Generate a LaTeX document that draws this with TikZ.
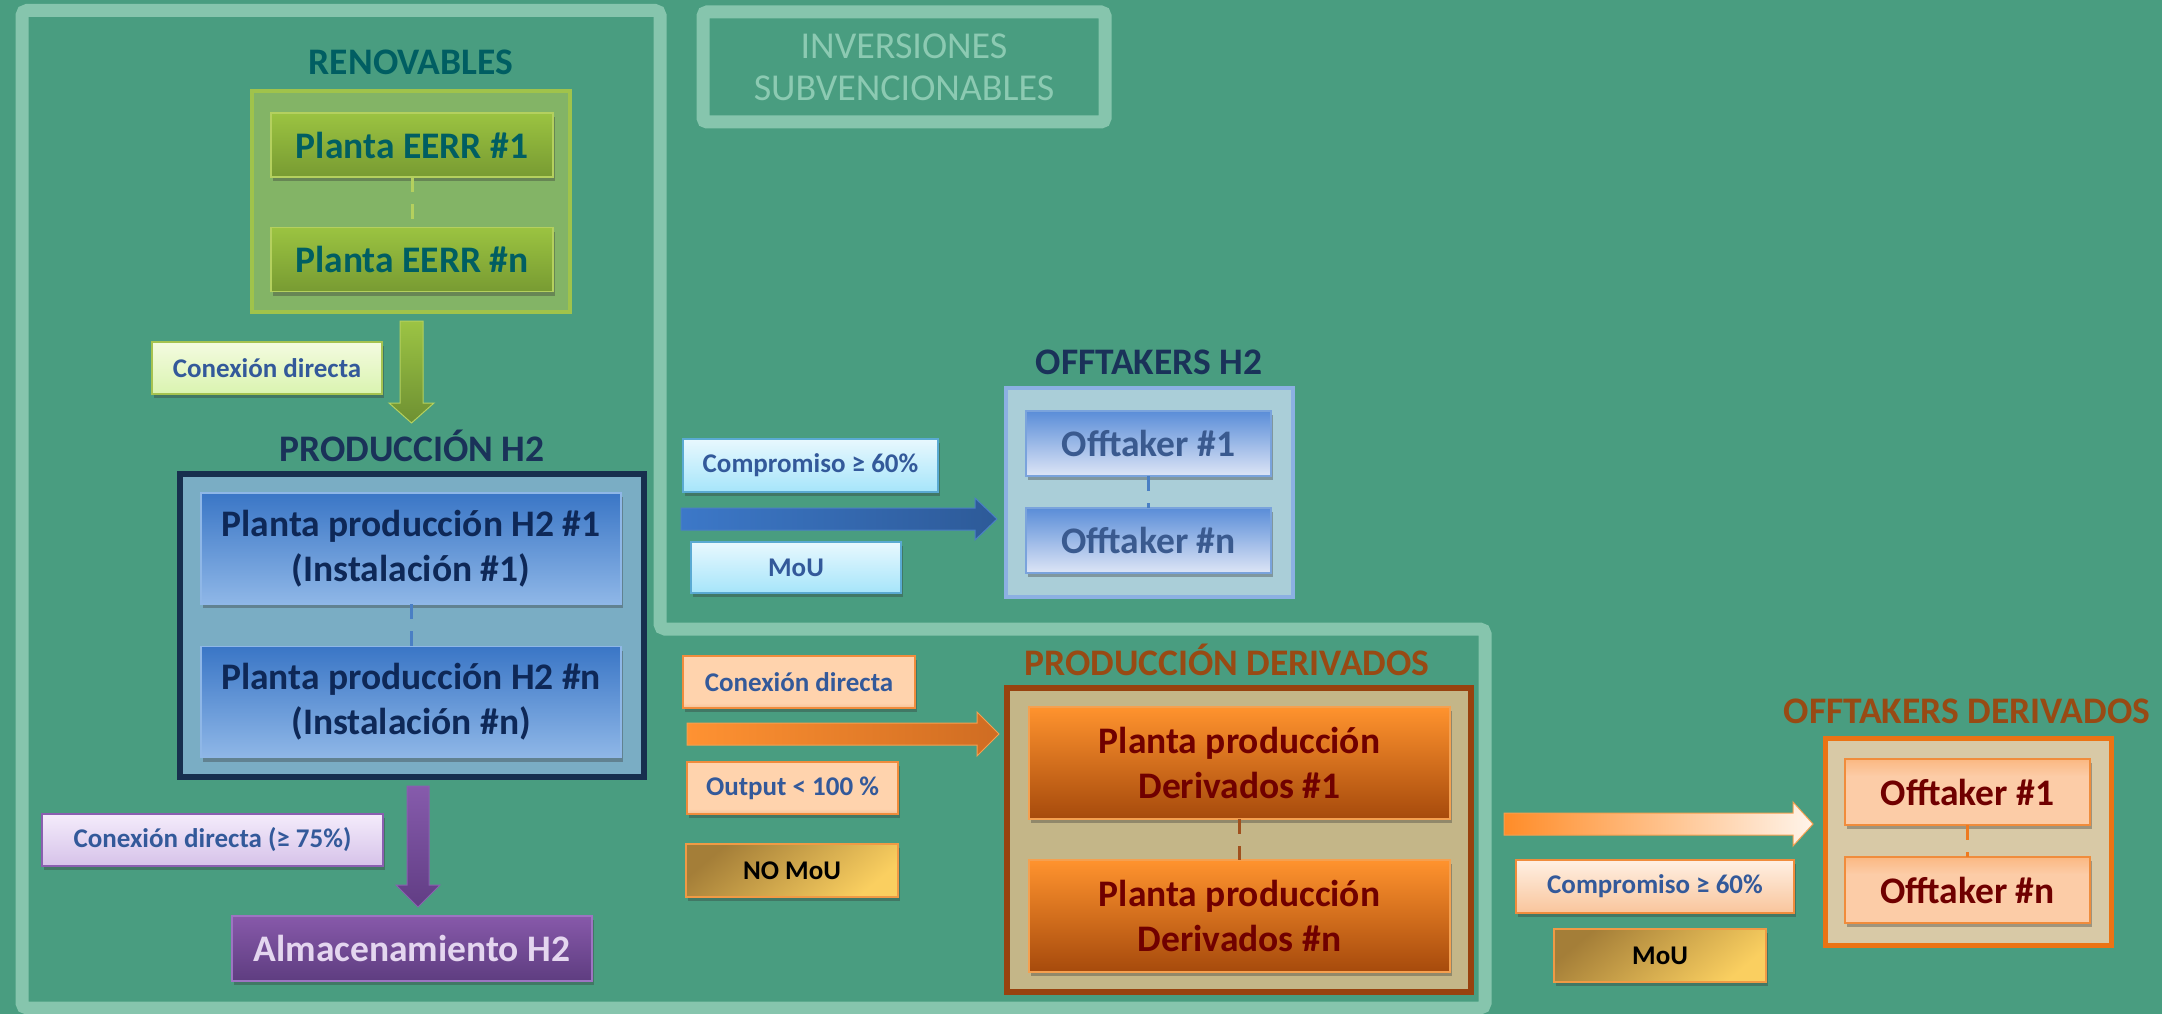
\documentclass[tikz,border=0pt]{standalone}
\usepackage{fontspec}
\setmainfont{Carlito}
\usetikzlibrary{shadows,calc}
\definecolor{bg}{HTML}{499D80}
\definecolor{framec}{HTML}{86C5AD}
\definecolor{invtxt}{HTML}{8CCAB2}
\definecolor{tealtxt}{HTML}{005E62}
\definecolor{navytxt}{HTML}{1A3259}
\definecolor{browntxt}{HTML}{984A14}
\definecolor{lblue}{HTML}{33599A}
\definecolor{renovfill}{HTML}{83B466}
\definecolor{renovbd}{HTML}{A0C34B}
\definecolor{eerrtop}{HTML}{9BC341}
\definecolor{eerrbot}{HTML}{789B32}
\definecolor{eerrbd}{HTML}{B4D05E}
\definecolor{glabtop}{HTML}{F4FBE0}
\definecolor{glabbot}{HTML}{DAF4B0}
\definecolor{glabbd}{HTML}{A5C350}
\definecolor{garrtop}{HTML}{9CC444}
\definecolor{garrbot}{HTML}{6E9032}
\definecolor{h2fill}{HTML}{7AADC4}
\definecolor{h2bd}{HTML}{172F4E}
\definecolor{h2top}{HTML}{3A76C6}
\definecolor{h2bot}{HTML}{8FB7E7}
\definecolor{h2txt}{HTML}{0E2857}
\definecolor{h2dash}{HTML}{4A7FC4}
\definecolor{parrtop}{HTML}{865BAC}
\definecolor{parrbot}{HTML}{613D84}
\definecolor{plabtop}{HTML}{F4ECFB}
\definecolor{plabbot}{HTML}{D6C2E9}
\definecolor{plabbd}{HTML}{8A5FB0}
\definecolor{almtop}{HTML}{8759AA}
\definecolor{almbot}{HTML}{5E3D80}
\definecolor{almbd}{HTML}{9D74C2}
\definecolor{almtxt}{HTML}{E4D6EF}
\definecolor{ofh2fill}{HTML}{AACED8}
\definecolor{ofh2bd}{HTML}{8CB0E2}
\definecolor{oftop}{HTML}{5A8DD8}
\definecolor{ofmid}{HTML}{A6C2EC}
\definecolor{ofbot}{HTML}{DDE5F6}
\definecolor{oftxt}{HTML}{3A5A8F}
\definecolor{ofbd}{HTML}{7AA3DC}
\definecolor{clabtop}{HTML}{E8F8FE}
\definecolor{clabbot}{HTML}{A6E5FA}
\definecolor{clabbd}{HTML}{5AAAD2}
\definecolor{barrl}{HTML}{3C78C8}
\definecolor{barrr}{HTML}{2D5A98}
\definecolor{olabpeach}{HTML}{FFD3AD}
\definecolor{olabbrown}{HTML}{BF6828}
\definecolor{olabbd}{HTML}{F08C3C}
\definecolor{oarrl}{HTML}{FF9232}
\definecolor{oarrr}{HTML}{CF6C22}
\definecolor{golddark}{HTML}{A47E38}
\definecolor{goldlight}{HTML}{FACF60}
\definecolor{goldbd}{HTML}{F09A45}
\definecolor{pdfill}{HTML}{C4B688}
\definecolor{pdbd}{HTML}{98420F}
\definecolor{dertop}{HTML}{FF932E}
\definecolor{derbot}{HTML}{A64A0C}
\definecolor{derbd}{HTML}{F5A050}
\definecolor{dertxt}{HTML}{700000}
\definecolor{derdash}{HTML}{A0501E}
\definecolor{rarrl}{HTML}{FF8C28}
\definecolor{rarrr}{HTML}{FFF4EA}
\definecolor{rlabtop}{HTML}{FFF0E3}
\definecolor{rlabbot}{HTML}{F9C59C}
\definecolor{odfill}{HTML}{D8C9A6}
\definecolor{odbd}{HTML}{EB7314}
\definecolor{odtop}{HTML}{F7913B}
\definecolor{odpeach}{HTML}{FCCCA7}
\definecolor{oddash}{HTML}{EE7A20}
\pgfdeclareverticalshading{olabshade}{100bp}{color(0bp)=(olabbrown); color(30bp)=(olabpeach); color(100bp)=(olabpeach)}
\pgfdeclareverticalshading{odshade}{100bp}{color(0bp)=(odpeach); color(62bp)=(odpeach); color(100bp)=(odtop)}
\newcommand{\hblock}[6]{\path[#6] ($(#1)+(0,-#3)$) -- ($(#2)+(-#5,-#3)$) -- ($(#2)+(-#5,-#4)$) -- (#2) -- ($(#2)+(-#5,#4)$) -- ($(#2)+(-#5,#3)$) -- ($(#1)+(0,#3)$) -- cycle;}
\newcommand{\vblock}[6]{\path[#6] ($(#1)+(-#3,0)$) -- ($(#2)+(-#3,-#5)$) -- ($(#2)+(-#4,-#5)$) -- (#2) -- ($(#2)+(#4,-#5)$) -- ($(#2)+(#3,-#5)$) -- ($(#1)+(#3,0)$) -- cycle;}
\tikzset{
  every node/.style={inner sep=0pt, outer sep=0pt},
  bigfont/.style={font=\fontsize{37.5}{45}\selectfont\bfseries},
  labfont/.style={font=\fontsize{27}{32}\selectfont\bfseries},
  shd/.style={drop shadow={shadow xshift=2pt, shadow yshift=-4pt, opacity=.35, fill=black!80}},
  ttl/.style={bigfont},
  eerrbox/.style={shd, bigfont, draw=eerrbd, line width=1.5pt, top color=eerrtop, bottom color=eerrbot, minimum width=282pt, minimum height=64pt, text=tealtxt},
  h2box/.style={shd, bigfont, align=center, draw=h2bot, line width=1.5pt, top color=h2top, bottom color=h2bot, minimum width=420pt, minimum height=111pt, text=h2txt},
  ofbox/.style={shd, bigfont, draw=ofbd, line width=1.5pt, top color=oftop, middle color=ofmid, bottom color=ofbot, minimum width=245pt, minimum height=65pt, text=oftxt},
  derbox/.style={shd, bigfont, align=center, draw=derbd, line width=1.5pt, top color=dertop, bottom color=derbot, minimum width=421pt, minimum height=112pt, text=dertxt},
  odbox/.style={shd, bigfont, draw=olabbd, line width=1.5pt, shading=odshade, minimum width=245pt, minimum height=66pt, text=dertxt},
  glab/.style={shd, labfont, draw=glabbd, line width=1.5pt, top color=glabtop, bottom color=glabbot, text=lblue},
  plab/.style={shd, labfont, draw=plabbd, line width=1.5pt, top color=plabtop, bottom color=plabbot, text=lblue},
  clab/.style={shd, labfont, draw=clabbd, line width=1.5pt, top color=clabtop, bottom color=clabbot, text=lblue},
  olab/.style={shd, labfont, draw=olabbd, line width=1.5pt, shading=olabshade, text=lblue},
  rlab/.style={shd, labfont, draw=olabbd, line width=1.5pt, top color=rlabtop, bottom color=rlabbot, text=lblue},
  goldlab/.style={shd, labfont, draw=goldbd, line width=1.5pt, top color=golddark, bottom color=goldlight, shading angle=40, text=black},
  framepath/.style={draw=framec, line width=13pt, rounded corners=5pt},
  dashcon/.style={line width=3pt, dash pattern=on 15pt off 12pt},
}
\begin{document}
\begin{tikzpicture}[x=1pt, y=-1pt]
\useasboundingbox (0,0) rectangle (2162,1014);
\fill[bg] (0,0) rectangle (2162,1014);
% outer frame
\draw[framepath] (22,10.5) -- (660,10.5) -- (660,629) -- (1485,629) -- (1485,1008) -- (22,1008) -- cycle;
\node[draw=framec, line width=13pt, rounded corners=4pt, minimum width=402pt, minimum height=110pt, align=center, text=invtxt, font=\fontsize{38}{42}\selectfont] (inv) at (904,67) {INVERSIONES\\SUBVENCIONABLES};

% Renovables
\node[ttl, text=tealtxt] (trenov) at (411,62) {RENOVABLES};
\node[draw=renovbd, fill=renovfill, line width=4pt, minimum width=318pt, minimum height=221pt] (renov) at (411,201.5) {};
\node[eerrbox] (eerr1) at (412,145) {Planta EERR \#1};
\node[eerrbox] (eerrn) at (412,259.5) {Planta EERR \#n};
\draw[dashcon, draw=eerrbd] (eerr1) -- (eerrn);
\coordinate (gaS) at (411.5,321);
\coordinate (gaE) at (411.5,423);
\vblock{gaS}{gaE}{11.5}{22.5}{20}{top color=garrtop, bottom color=garrbot, draw=eerrbd, line width=1pt}
\node[glab, minimum width=230pt, minimum height=52pt] (labg) at (267,368) {Conexión directa};

% Produccion H2
\node[ttl, text=navytxt] (tprodh2) at (412,446) {PRODUCCIÓN H2};
\node[draw=h2bd, fill=h2fill, line width=6pt, minimum width=464pt, minimum height=303pt] (prodh2) at (412,625.5) {};
\node[h2box] (h2p1) at (411,548.5) {Planta producción H2 \#1\\(Instalación \#1)};
\node[h2box] (h2pn) at (411,702) {Planta producción H2 \#n\\(Instalación \#n)};
\draw[dashcon, draw=h2dash] (h2p1) -- (h2pn);
\coordinate (paS) at (418,786);
\coordinate (paE) at (418,907);
\vblock{paS}{paE}{11}{22}{22}{top color=parrtop, bottom color=parrbot, draw=plabbd, line width=1pt}
\node[plab, minimum width=341pt, minimum height=52pt] (labp) at (212.5,840) {Conexión directa (≥ 75\%)};
\node[shd, bigfont, draw=almbd, line width=1.5pt, top color=almtop, bottom color=almbot, minimum width=360pt, minimum height=65pt, text=almtxt] (alm) at (412,948.5) {Almacenamiento H2};

% Offtakers H2
\node[ttl, text=navytxt] (toffh2) at (1149,362) {OFFTAKERS H2};
\node[draw=ofh2bd, fill=ofh2fill, line width=4pt, minimum width=287pt, minimum height=209pt] (offh2) at (1149.5,492.5) {};
\node[ofbox] (off1) at (1148.5,443.5) {Offtaker \#1};
\node[ofbox] (offn) at (1148.5,540.5) {Offtaker \#n};
\draw[dashcon, draw=h2dash] (off1) -- (offn);
\node[clab, minimum width=255pt, minimum height=53pt] (labc1) at (810.5,465.5) {Compromiso ≥ 60\%};
\coordinate (baS) at (681,519);
\coordinate (baE) at (997,519);
\hblock{baS}{baE}{11}{21}{22}{left color=barrl, right color=barrr, draw=h2dash, line width=1pt}
\node[clab, minimum width=210pt, minimum height=51pt] (labmou1) at (796,567.5) {MoU};

% Produccion derivados
\node[olab, minimum width=232pt, minimum height=52pt] (labo1) at (799,682) {Conexión directa};
\coordinate (oaS) at (687,734);
\coordinate (oaE) at (999,734);
\hblock{oaS}{oaE}{11}{22}{22}{left color=oarrl, right color=oarrr, draw=derbd, line width=1pt}
\node[olab, minimum width=211pt, minimum height=52pt] (labo2) at (792.5,788) {Output < 100 \%};
\node[goldlab, minimum width=212pt, minimum height=53pt] (labnomou) at (792,870.5) {NO MoU};
\node[ttl, text=browntxt] (tprodder) at (1227,660) {PRODUCCIÓN DERIVADOS};
\node[draw=pdbd, fill=pdfill, line width=6pt, minimum width=464pt, minimum height=304pt] (prodder) at (1239,840) {};
\node[derbox] (der1) at (1239.5,763) {Planta producción\\Derivados \#1};
\node[derbox] (dern) at (1239.5,916) {Planta producción\\Derivados \#n};
\draw[dashcon, draw=derdash] (der1) -- (dern);

% Offtakers derivados
\coordinate (raS) at (1504,824);
\coordinate (raE) at (1813,824);
\hblock{raS}{raE}{11}{22}{20}{left color=rarrl, right color=rarrr, draw=derbd, line width=1pt}
\node[rlab, minimum width=278pt, minimum height=53pt] (labc2) at (1655,886.5) {Compromiso ≥ 60\%};
\node[goldlab, minimum width=212pt, minimum height=53pt] (labmou2) at (1660,955.5) {MoU};
\node[ttl, text=browntxt] (toffder) at (1967,711) {OFFTAKERS DERIVADOS};
\node[draw=odbd, fill=odfill, line width=5pt, minimum width=286pt, minimum height=207pt] (offder) at (1968,841.5) {};
\node[odbox] (od1) at (1967.5,792) {Offtaker \#1};
\node[odbox] (odn) at (1967.5,890) {Offtaker \#n};
\draw[dashcon, draw=oddash] (od1) -- (odn);
\end{tikzpicture}
\end{document}
